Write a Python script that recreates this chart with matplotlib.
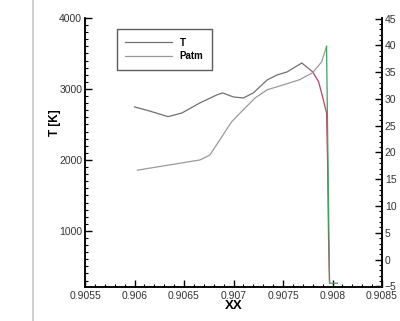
import matplotlib
matplotlib.use("Agg")
import matplotlib.pyplot as plt
from matplotlib.lines import Line2D
from matplotlib.ticker import MultipleLocator, FixedFormatter, FixedLocator

plt.rcParams["font.family"] = ["Liberation Sans", "DejaVu Sans"]

# T curve (left axis), gray part then red drop
t_x = [0.90600, 0.90615, 0.90634, 0.90648, 0.90666, 0.90683, 0.90689, 0.90700, 0.90710,
       0.90720, 0.90734, 0.90744, 0.90754, 0.90769, 0.90780]
t_y = [2747, 2690, 2610, 2662, 2803, 2915, 2944, 2887, 2873,
       2944, 3127, 3197, 3239, 3366, 3240]
t_red_x = [0.90780, 0.90786, 0.90790, 0.90794, 0.90795, 0.90796, 0.90797]
t_red_y = [3240, 3100, 2887, 2662, 2000, 900, 280]

# Patm curve (right axis), gray part then green drop
p_x = [0.90603, 0.90636, 0.90666, 0.90676, 0.90686, 0.90698, 0.90710, 0.90722,
       0.90734, 0.90750, 0.90767, 0.90780, 0.90789, 0.90794]
p_y = [16.7, 17.7, 18.6, 19.5, 22.3, 25.7, 28.0, 30.2,
       31.7, 32.6, 33.6, 34.9, 36.9, 39.8]
p_green_x = [0.90794, 0.90796, 0.90797, 0.90805]
p_green_y = [39.8, 10.0, -4.4, -4.4]

x_ticks = [0.9055, 0.906, 0.9065, 0.907, 0.9075, 0.908, 0.9085]
x_labels = ["0.9055", "0.906", "0.9065", "0.907", "0.9075", "0.908", "0.9085"]
t_ticks = [1000, 2000, 3000, 4000]
p_ticks = [-5, 0, 5, 10, 15, 20, 25, 30, 35, 40, 45]

fig = plt.figure(figsize=(4.0, 3.21), dpi=100)
fig.add_artist(Line2D([0.083, 0.083], [0, 1], color="#c8c8c8", lw=1.2))

ax = fig.add_axes([0.2125, 0.106, 0.7425, 0.838])
ax2 = ax.twinx()

ax.plot(t_x, t_y, color="#707070", lw=0.9)
ax.plot(t_red_x, t_red_y, color="#c04060", lw=0.9)
ax2.plot(p_x, p_y, color="#9a9a9a", lw=0.9)
ax2.plot(p_green_x, p_green_y, color="#40a060", lw=0.9)

ax.set_xlim(0.9055, 0.9085)
ax.set_ylim(210, 4000)
ax2.set_ylim(-5.1, 45.1)

for a in (ax, ax2):
    a.spines["top"].set_visible(False)
    for s in a.spines.values():
        s.set_linewidth(1.1)

ax.xaxis.set_major_locator(FixedLocator(x_ticks))
ax.xaxis.set_major_formatter(FixedFormatter(x_labels))
ax.xaxis.set_minor_locator(MultipleLocator(0.0001))
ax.yaxis.set_major_locator(FixedLocator(t_ticks))
ax.yaxis.set_minor_locator(MultipleLocator(100))
ax2.yaxis.set_major_locator(FixedLocator(p_ticks))
ax2.yaxis.set_minor_locator(MultipleLocator(1))

ax.tick_params(which="major", direction="in", length=5, width=1, labelsize=7.5,
               labelcolor="#333333", pad=2, right=False, top=False)
ax.tick_params(axis="x", which="major", pad=3)
ax.tick_params(which="minor", direction="in", length=2.5, width=0.8, right=False, top=False)
ax2.tick_params(which="major", direction="in", length=5, width=1, labelsize=7.5,
                labelcolor="#333333", pad=2)
ax2.tick_params(which="minor", direction="in", length=2.5, width=0.8)

ax.set_ylabel("T [K]", fontsize=8.5, fontweight="bold")
ax.yaxis.set_label_coords(-0.08, 0.61)
ax.set_xlabel("XX", fontsize=9.5, fontweight="bold", labelpad=-1)

handles = [Line2D([], [], color="#707070", lw=0.9), Line2D([], [], color="#9a9a9a", lw=0.9)]
leg = ax.legend(handles, ["T", "Patm"], loc="upper left", bbox_to_anchor=(0.09, 0.978),
                frameon=True, fancybox=False, handlelength=4.8,
                borderpad=0.9, labelspacing=0.35, handletextpad=0.8,
                prop={"weight": "bold", "size": 7})
leg.get_frame().set_edgecolor("#333333")
leg.get_frame().set_linewidth(1.0)

fig.savefig("out.png", dpi=100)
